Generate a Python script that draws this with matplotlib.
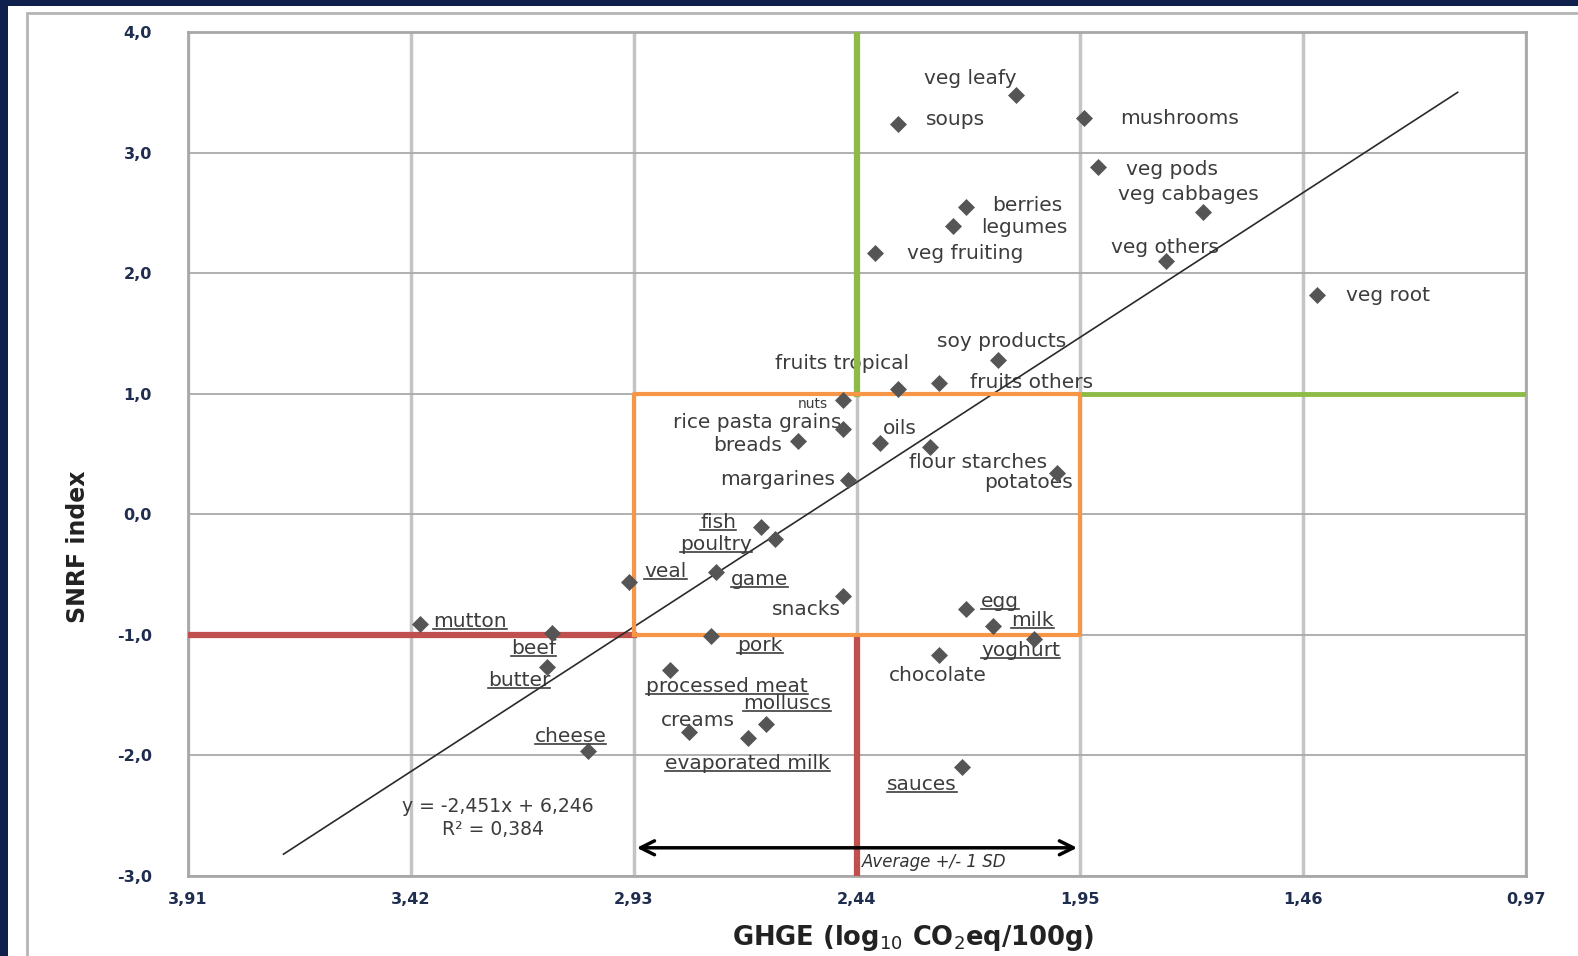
import matplotlib
matplotlib.use("Agg")
import matplotlib.pyplot as plt
from matplotlib.patches import Rectangle
from matplotlib.lines import Line2D

# food groups: GHGE (log10 CO2eq/100g) vs SNRF index
foods = ['veg leafy', 'soups', 'mushrooms', 'veg pods', 'veg cabbages', 'berries',
         'legumes', 'veg fruiting', 'veg others', 'veg root', 'soy products',
         'fruits tropical', 'fruits others', 'nuts', 'rice pasta grains', 'oils',
         'breads', 'flour starches', 'potatoes', 'margarines', 'fish', 'poultry',
         'veal', 'game', 'snacks', 'egg', 'milk', 'yoghurt', 'mutton', 'beef',
         'butter', 'pork', 'processed meat', 'chocolate', 'molluscs', 'creams',
         'evaporated milk', 'cheese', 'sauces']
ghge = [2.09, 2.35, 1.94, 1.91, 1.68, 2.20, 2.23, 2.40, 1.76, 1.43, 2.13,
        2.35, 2.26, 2.47, 2.47, 2.39, 2.57, 2.28, 2.00, 2.46, 2.65, 2.62,
        2.94, 2.75, 2.47, 2.20, 2.14, 2.05, 3.40, 3.11, 3.12, 2.76, 2.85,
        2.26, 2.64, 2.81, 2.68, 3.03, 2.21]
snrf = [3.48, 3.24, 3.29, 2.88, 2.51, 2.55, 2.39, 2.17, 2.10, 1.82, 1.28,
        1.04, 1.09, 0.95, 0.71, 0.59, 0.61, 0.56, 0.34, 0.28, -0.11, -0.21,
        -0.56, -0.48, -0.68, -0.79, -0.93, -1.04, -0.91, -0.99, -1.27, -1.01, -1.29,
        -1.17, -1.74, -1.81, -1.86, -1.97, -2.10]
underlined = {'fish', 'poultry', 'veal', 'game', 'egg', 'milk', 'yoghurt', 'mutton',
              'beef', 'butter', 'pork', 'processed meat', 'molluscs',
              'evaporated milk', 'cheese', 'sauces'}

x_ticks = [3.91, 3.42, 2.93, 2.44, 1.95, 1.46, 0.97]
x_tick_labels = ['3,91', '3,42', '2,93', '2,44', '1,95', '1,46', '0,97']
y_ticks = [-3, -2, -1, 0, 1, 2, 3, 4]
y_tick_labels = ['-3,0', '-2,0', '-1,0', '0,0', '1,0', '2,0', '3,0', '4,0']

ghge_mean = 2.44
ghge_sd = 0.49
snrf_low, snrf_high = -1.0, 1.0

# trendline y = -2,451x + 6,246
slope, intercept = -2.451, 6.246
trend_x = [3.70, 1.12]

# label placement: (dx px, dy px, ha)
label_pos = {
    'veg leafy': (0, 16, 'right'), 'soups': (28, 4, 'left'), 'mushrooms': (36, -1, 'left'),
    'veg pods': (28, -2, 'left'), 'veg cabbages': (-14, 17, 'center'),
    'berries': (26, 1, 'left'), 'legumes': (29, -1, 'left'), 'veg fruiting': (32, -1, 'left'),
    'veg others': (-1, 14, 'center'), 'veg root': (29, -1, 'left'),
    'soy products': (4, 18, 'center'), 'fruits tropical': (11, 25, 'right'),
    'fruits others': (31, 0, 'left'), 'nuts': (-15, -4, 'right'),
    'rice pasta grains': (-2, 6, 'right'), 'oils': (3, 15, 'left'),
    'breads': (-16, -5, 'right'), 'flour starches': (-21, -16, 'left'),
    'potatoes': (16, -9, 'right'), 'margarines': (-13, 1, 'right'),
    'fish': (-25, 5, 'right'), 'poultry': (-23, -5, 'right'), 'veal': (15, 10, 'left'),
    'game': (15, -8, 'left'), 'snacks': (-2, -13, 'right'), 'egg': (15, 8, 'left'),
    'milk': (18, 6, 'left'), 'yoghurt': (-14, -11, 'center'), 'mutton': (13, 2, 'left'),
    'beef': (4, -15, 'right'), 'butter': (3, -13, 'right'), 'pork': (26, -10, 'left'),
    'processed meat': (-24, -17, 'left'), 'chocolate': (-1, -20, 'center'),
    'molluscs': (-23, 20, 'left'), 'creams': (9, 12, 'center'),
    'evaporated milk': (0, -25, 'center'), 'cheese': (18, 15, 'right'),
    'sauces': (-5, -17, 'right'),
}

fig = plt.figure(figsize=(15.78, 9.56), dpi=100)
fig.patch.set_facecolor('#10204c')
fig.add_artist(Rectangle((8 / 1578, 0), 1, 1 - 6 / 956, transform=fig.transFigure,
                         facecolor='white', edgecolor='none', zorder=-10))
fig.add_artist(Rectangle((27 / 1578, -0.1), 1, 1.1 - 13 / 956, transform=fig.transFigure,
                         facecolor='none', edgecolor='#b5b5b5', lw=2, zorder=-9))

ax = fig.add_axes([0.1191, 0.0842, 0.8479, 0.8821])
ax.set_xlim(3.91, 0.97)
ax.set_ylim(-3, 4)
ax.set_xticks(x_ticks)
ax.set_xticklabels(x_tick_labels)
ax.set_yticks(y_ticks)
ax.set_yticklabels(y_tick_labels)
ax.tick_params(length=0, labelsize=11.5, labelcolor='#1f2d4f')
ax.tick_params(axis='x', pad=12)
ax.tick_params(axis='y', pad=26)
for lab in ax.get_xticklabels() + ax.get_yticklabels():
    lab.set_fontweight('bold')
for s in ax.spines.values():
    s.set_color('#a8a8a8')
    s.set_linewidth(2)
ax.grid(axis='x', color='#c4c4c4', lw=2.5)
ax.grid(axis='y', color='#a9a9a9', lw=1.3)
ax.set_axisbelow(True)

# quadrant lines
ax.plot([ghge_mean, ghge_mean], [snrf_high, 4], color='#8dbb45', lw=4.5, zorder=3)
ax.plot([ghge_mean - ghge_sd, 0.97], [snrf_high, snrf_high], color='#8dbb45', lw=3.5, zorder=3)
ax.plot([3.91, ghge_mean + ghge_sd], [snrf_low, snrf_low], color='#c0504d', lw=4.5, zorder=3)
ax.plot([ghge_mean, ghge_mean], [-3, snrf_low], color='#c0504d', lw=4.5, zorder=3,
        solid_capstyle='butt')
box_x = [ghge_mean + ghge_sd, ghge_mean - ghge_sd, ghge_mean - ghge_sd, ghge_mean + ghge_sd, ghge_mean + ghge_sd]
box_y = [snrf_low, snrf_low, snrf_high, snrf_high, snrf_low]
ax.plot(box_x, box_y, color='#f79646', lw=3, zorder=4)

# trendline
ax.plot(trend_x, [slope * v + intercept for v in trend_x], color='#2a2a2a', lw=1.2, zorder=3)

ax.scatter(ghge, snrf, marker='D', s=75, color='#555555', zorder=6, linewidths=0)

texts = []
for name, gx, sy in zip(foods, ghge, snrf):
    dx, dy, ha = label_pos[name]
    fs = 10 if name == 'nuts' else 14.5
    t = ax.annotate(name, (gx, sy), xytext=(dx, dy), textcoords='offset pixels',
                    ha=ha, va='center', fontsize=fs, color='#3c3c3c', zorder=2)
    texts.append((name, t))

ax.text(3.23, -2.43, 'y = -2,451x + 6,246', ha='center', va='center', fontsize=13.5, color='#3c3c3c')
ax.text(3.24, -2.62, 'R² = 0,384', ha='center', va='center', fontsize=13.5, color='#3c3c3c')

ax.annotate('', xy=(ghge_mean - ghge_sd, -2.77), xytext=(ghge_mean + ghge_sd, -2.77),
            arrowprops=dict(arrowstyle='<->', color='black', lw=2.5, mutation_scale=25), zorder=5)
ax.text(2.43, -2.89, 'Average +/- 1 SD', ha='left', va='center', fontsize=12,
        style='italic', color='#333333')

ax.set_xlabel('GHGE (log$_{10}$ CO$_2$eq/100g)', fontsize=18.5, fontweight='bold', color='#222222')
ax.xaxis.set_label_coords(0.542, -0.056)
ax.set_ylabel('SNRF index', fontsize=17, fontweight='bold', color='#222222')
ax.yaxis.set_label_coords(-0.073, 0.39)

# underline some labels
fig.canvas.draw()
renderer = fig.canvas.get_renderer()
inv = fig.transFigure.inverted()
for name, t in texts:
    if name in underlined:
        bb = t.get_window_extent(renderer)
        (x0, y0), (x1, _) = inv.transform([(bb.x0, bb.y0 + 2), (bb.x1, bb.y0 + 2)])
        fig.add_artist(Line2D([x0, x1], [y0, y0], transform=fig.transFigure,
                              color='#3c3c3c', lw=1.2))

fig.savefig('out.png', dpi=100, facecolor=fig.get_facecolor())
